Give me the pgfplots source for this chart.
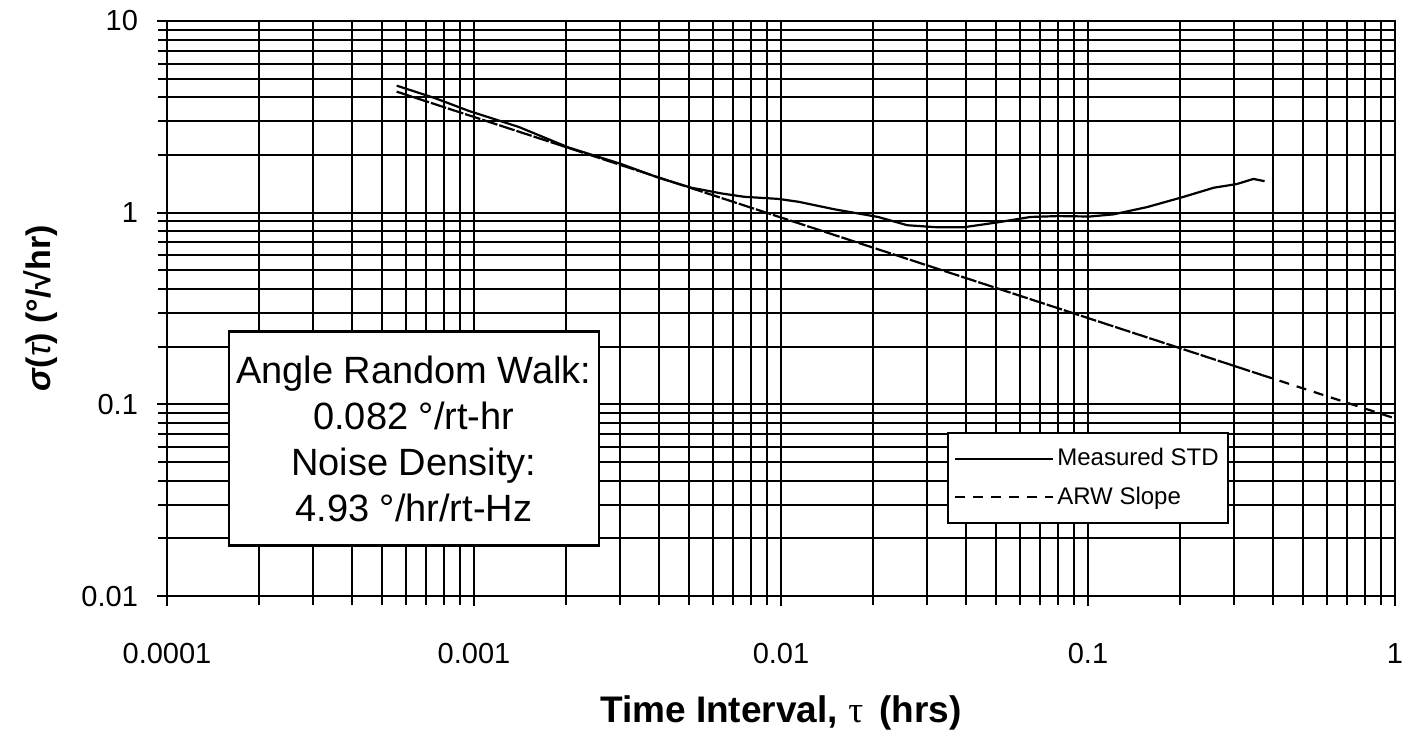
\documentclass[border=0pt]{standalone}
\usepackage{pgfplots}
\pgfplotsset{compat=1.18}
\usepackage{fontspec}
\setmainfont{Liberation Sans}
\newfontfamily\serifgreek{Liberation Serif}

\pgfplotstableread{
x y
5.6e-4 4.6
7.5e-4 3.95
9.6e-4 3.4
0.0014 2.8
0.00203 2.19
0.003 1.8
0.0040 1.52
0.0051 1.35
0.0064 1.26
0.0076 1.21
0.0098 1.18
0.0114 1.14
0.015 1.04
0.0207 0.95
0.0258 0.86
0.032 0.84
0.0395 0.84
0.0507 0.89
0.065 0.95
0.08 0.96
0.1014 0.955
0.121 0.98
0.156 1.07
0.205 1.21
0.257 1.35
0.305 1.41
0.346 1.50
0.376 1.46
}\measured

\pgfplotstableread{
x y
5.6e-4 4.28
0.37 0.142
}\arwA

\pgfplotstableread{
x y
0.37 0.142
1 0.0845
}\arwB

\begin{document}
\begin{tikzpicture}
\begin{axis}[
  scale only axis, width=614pt, height=287.5pt,
  xmode=log, ymode=log,
  xmin=1e-4, xmax=1, ymin=0.01, ymax=10,
  xtick={1e-4,1e-3,1e-2,1e-1,1},
  xticklabels={0.0001,0.001,0.01,0.1,1},
  ytick={0.01,0.1,1,10},
  yticklabels={0.01,0.1,1,10},
  minor xtick={2e-4,3e-4,4e-4,5e-4,6e-4,7e-4,8e-4,9e-4,
    0.002,0.003,0.004,0.005,0.006,0.007,0.008,0.009,
    0.02,0.03,0.04,0.05,0.06,0.07,0.08,0.09,
    0.2,0.3,0.4,0.5,0.6,0.7,0.8,0.9},
  minor ytick={0.02,0.03,0.04,0.05,0.06,0.07,0.08,0.09,
    0.2,0.3,0.4,0.5,0.6,0.7,0.8,0.9,
    2,3,4,5,6,7,8,9},
  grid=both,
  major grid style={black, line width=1pt},
  minor grid style={black, line width=1pt},
  tick align=outside, tick pos=left,
  major tick length=5pt, minor tick length=4.5pt,
  every tick/.style={black, line width=1pt},
  axis line style={black, line width=1pt},
  ticklabel style={font=\fontsize{14.5}{16}\selectfont},
  xticklabel shift=15pt,
  yticklabel shift=6pt,
  xlabel={\textbf{Time Interval, {\mdseries\serifgreek τ}\, (hrs)}},
  xlabel style={font=\fontsize{18.5}{20}\selectfont, at={(axis description cs:0.5,-0.203)}, anchor=center},
  ylabel={\textbf{\textit{σ}({\mdseries\itshape τ}) (°/√hr)}},
  ylabel style={font=\fontsize{17}{20}\selectfont, at={(axis description cs:-0.103,0.5)}, anchor=center},
  legend image code/.code={\draw[#1] (0pt,0pt) -- (49pt,0pt);},
  legend style={at={(rel axis cs:0.8646,0.286)}, anchor=north east,
    draw=black, line width=1pt, fill=white,
    font=\fontsize{12}{14}\selectfont,
    inner xsep=3pt, inner ysep=6pt, row sep=5pt,
    nodes={inner xsep=1.5pt, inner ysep=2pt}},
  legend cell align=left,
]
\coordinate (sw) at (rel axis cs:0,0);
\coordinate (ne) at (rel axis cs:1,1);
\addplot[black, line width=1.1pt, no markers] table {\measured};
\addlegendentry{Measured STD}
\addplot[black, line width=1.1pt, no markers, dash pattern=on 8pt off 1pt, forget plot] table {\arwA};
\addplot[black, line width=1.1pt, no markers, dash pattern=on 5pt off 4pt] table {\arwB};
\addlegendentry{ARW Slope}
\node[draw=black, line width=1.1pt, fill=white, align=center,
  minimum width=185pt, minimum height=107pt,
  font=\fontsize{19}{23}\selectfont] at (rel axis cs:0.201,0.274)
  {Angle Random Walk:\\0.082 °/rt-hr\\Noise Density:\\4.93 °/hr/rt-Hz};
\end{axis}
\pgfresetboundingbox
\path ([xshift=-83.5pt,yshift=-69pt]sw) rectangle ([xshift=5pt,yshift=10.5pt]ne);
\end{tikzpicture}
\end{document}
